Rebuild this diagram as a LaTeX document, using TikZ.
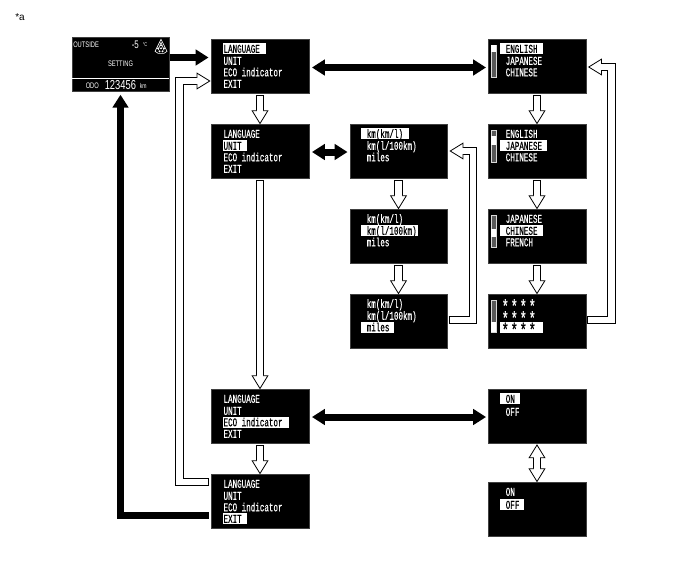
\documentclass[tikz,border=0pt]{standalone}
\usepackage{fontspec}
\setmainfont{Liberation Sans}
\newfontfamily\lcdfont[FakeStretch=0.63,FakeBold=0.4]{Liberation Mono}
\newfontfamily\homefont[FakeStretch=0.72]{Liberation Sans}
\usetikzlibrary{arrows.meta,calc}
\definecolor{bargray}{gray}{0.35}
\newcommand\lcdstar{\makebox[9pt][l]{\smash{\raisebox{-5pt}{\fontsize{19}{19}\selectfont *}}}}
\tikzset{
  screen/.style={fill=black,draw=black!75,line width=.4pt,minimum width=97.5pt,minimum height=54pt,inner sep=0pt},
  lcd/.style={text=white,font=\lcdfont\fontsize{12}{12}\selectfont,anchor=west,inner sep=0pt,text height=8pt,text depth=0pt},
  lcdsel/.style={lcd,text=black},
  selbar/.style={fill=white,draw=none,anchor=west,minimum height=11pt,inner sep=0pt},
  hometext/.style={text=white,font=\homefont\fontsize{#1}{#1}\selectfont,inner sep=0pt},
  blackarrow/.style={line width=7pt,black,{Triangle[length=13pt,width=15.5pt]}-{Triangle[length=13pt,width=15.5pt]}},
  blackone/.style={line width=7pt,black,-{Triangle[length=13pt,width=15.5pt]}},
  holo/.style={line width=8.4pt,black,line join=miter,-{Triangle[open,fill=white,length=14pt,width=17pt,line width=.8pt]}},
  holi/.style={line width=6.8pt,white,line join=miter,shorten <=.8pt,shorten >=12.5pt},
  holotwo/.style={line width=8.4pt,black,{Triangle[open,fill=white,length=14pt,width=17pt,line width=.8pt]}-{Triangle[open,fill=white,length=14pt,width=17pt,line width=.8pt]}},
  holitwo/.style={line width=6.8pt,white,shorten <=12.5pt,shorten >=12.5pt},
  barframe/.style={draw=white!85!black,fill=bargray,line width=.6pt,minimum width=4.5pt,minimum height=32pt,inner sep=0pt},
  thumb/.style={fill=white,draw=none,minimum width=4.5pt,inner sep=0pt},
}
% text line: box, name, dx, dy, text
\newcommand\ml[5]{\node[lcd] (#2) at ([xshift=#3pt,yshift=-#4pt]#1.north west) {#5};}
% highlighted line: box, name, dx-of-bar, dy, bar width, text offset, text
\newcommand\hl[7]{\node[selbar,minimum width=#5pt] (#2b) at ([xshift=#3pt,yshift=-#4pt]#1.north west) {};
  \node[lcdsel] (#2) at ([xshift=#6pt]#2b.west) {#7};}
\newcommand\hollow[1]{\draw[holo] #1; \draw[holi] #1;}
\newcommand\scrollb[3]{\node[barframe] (#1bar) at ([xshift=5.5pt,yshift=-22pt]#1.north west) {};
  \node[thumb,minimum height=#3pt] (#1th) at ([yshift=-#2pt]#1bar.north) {};}
\begin{document}
\begin{tikzpicture}[x=1pt,y=-1pt]
\useasboundingbox (0,0) rectangle (688,560);
\node[inner sep=0pt,font=\fontsize{10}{10}\selectfont] (note) at (20,17) {*a};

% screens
\node[screen,minimum height=54pt] (home) at (120.5,64.5) {};
\node[screen] (lang1) at (260,66) {};
\node[screen] (lang2) at (260,151) {};
\node[screen] (lang3) at (260,416) {};
\node[screen] (lang4) at (260,501) {};
\node[screen] (km1) at (398.5,151) {};
\node[screen] (km2) at (398.5,236) {};
\node[screen] (km3) at (398.5,321) {};
\node[screen] (en1) at (537,66) {};
\node[screen] (en2) at (537,151) {};
\node[screen] (en3) at (537,236) {};
\node[screen] (en4) at (537,321) {};
\node[screen] (on1) at (537,416) {};
\node[screen] (on2) at (537,509) {};

% home screen
\node[hometext=8,anchor=west] (hoa) at ([xshift=1.5pt,yshift=-7pt]home.north west) {OUTSIDE};
\node[hometext=11,anchor=west] (hob) at ([xshift=60pt,yshift=-7.5pt]home.north west) {-5};
\node[hometext=5.5,anchor=west] (hoc) at ([xshift=71pt,yshift=-7.5pt]home.north west) {°C};
\node[hometext=8] (hod) at ([yshift=-26pt]home.north) {SETTING};
\coordinate (hoe) at ([yshift=-41pt]home.north west);
\coordinate (hof) at ([yshift=-41pt]home.north east);
\draw[white,line width=1pt] (hoe) -- (hof);
\node[hometext=8,anchor=west] (hog) at ([xshift=14pt,yshift=-48pt]home.north west) {ODO};
\node[hometext=13,anchor=west] (hoh) at ([xshift=33pt,yshift=-48pt]home.north west) {123456};
\node[hometext=7,anchor=west] (hoi) at ([xshift=68pt,yshift=-48.5pt]home.north west) {km};
\begin{scope}[shift={(home.north west)},white,line width=.6pt]
\coordinate (ic) at (89.5,0);
\draw ([xshift=0pt,yshift=-2pt]ic) -- ([xshift=-6pt,yshift=-14pt]ic) -- ([xshift=-3pt,yshift=-16pt]ic) -- ([xshift=3pt,yshift=-16pt]ic) -- ([xshift=6pt,yshift=-14pt]ic) -- cycle;
\draw ([yshift=-5pt]ic) -- ([xshift=-3pt,yshift=-13pt]ic) ([yshift=-5pt]ic) -- ([xshift=3pt,yshift=-13pt]ic);
\fill ([xshift=-3pt,yshift=-11pt]ic) circle (1.1pt) ([xshift=0pt,yshift=-11pt]ic) circle (1.1pt) ([xshift=3pt,yshift=-11pt]ic) circle (1.1pt) ([xshift=-1.5pt,yshift=-14pt]ic) circle (1.1pt) ([xshift=1.5pt,yshift=-14pt]ic) circle (1.1pt) ([yshift=-8pt]ic) circle (1pt);
\end{scope}

% language menus
\hl{lang1}{la}{11.5}{10}{43}{.8}{LANGUAGE}
\ml{lang1}{lb}{12.3}{22}{UNIT}
\ml{lang1}{lc}{12.3}{33.5}{ECO indicator}
\ml{lang1}{ld}{12.3}{45}{EXIT}
\ml{lang2}{ma}{12.3}{10}{LANGUAGE}
\hl{lang2}{mb}{11.5}{22}{24}{.8}{UNIT}
\ml{lang2}{mc}{12.3}{33.5}{ECO indicator}
\ml{lang2}{md}{12.3}{45}{EXIT}
\ml{lang3}{na}{12.3}{10}{LANGUAGE}
\ml{lang3}{nb}{12.3}{22}{UNIT}
\hl{lang3}{nc}{11.5}{33.5}{66}{.8}{ECO indicator}
\ml{lang3}{nd}{12.3}{45}{EXIT}
\ml{lang4}{oa}{12.3}{10}{LANGUAGE}
\ml{lang4}{ob}{12.3}{22}{UNIT}
\ml{lang4}{oc}{12.3}{33.5}{ECO indicator}
\hl{lang4}{od}{11.5}{45}{24}{.8}{EXIT}

% km menus
\hl{km1}{pa}{11.5}{10}{48}{5.5}{km(km/l)}
\ml{km1}{pb}{17}{22}{km(l/100km)}
\ml{km1}{pc}{17}{33.5}{miles}
\ml{km2}{qa}{17}{10}{km(km/l)}
\hl{km2}{qb}{11.5}{22}{57}{5.5}{km(l/100km)}
\ml{km2}{qc}{17}{33.5}{miles}
\ml{km3}{ra}{17}{10}{km(km/l)}
\ml{km3}{rb}{17}{22}{km(l/100km)}
\hl{km3}{rc}{11.5}{33.5}{33}{5.5}{miles}

% language lists
\scrollb{en1}{3.5}{7}
\hl{en1}{sa}{12}{10}{43}{5.5}{ENGLISH}
\ml{en1}{sb}{17.5}{22}{JAPANESE}
\ml{en1}{sc}{17.5}{33.5}{CHINESE}
\scrollb{en2}{11}{9}
\ml{en2}{ta}{17.5}{10}{ENGLISH}
\hl{en2}{tb}{12}{22}{47}{5.5}{JAPANESE}
\ml{en2}{tc}{17.5}{33.5}{CHINESE}
\scrollb{en3}{18}{8}
\ml{en3}{ua}{17.5}{10}{JAPANESE}
\hl{en3}{ub}{12}{22}{43}{5.5}{CHINESE}
\ml{en3}{uc}{17.5}{33.5}{FRENCH}
\scrollb{en4}{27}{10}
\ml{en4}{va}{13.5}{10}{\lcdstar\lcdstar\lcdstar\lcdstar}
\ml{en4}{vb}{13.5}{22}{\lcdstar\lcdstar\lcdstar\lcdstar}
\hl{en4}{vc}{12}{33.5}{43}{1.5}{\lcdstar\lcdstar\lcdstar\lcdstar}

% on/off
\hl{on1}{wa}{12}{10}{19.5}{5.5}{ON}
\ml{on1}{wb}{17.5}{23}{OFF}
\ml{on2}{xa}{17.5}{10}{ON}
\hl{on2}{xb}{12}{23}{24}{5.5}{OFF}

% black arrows
\draw[blackone] ([yshift=7pt]home.east) ++(.5,0) -- ([xshift=-2.5pt,yshift=8.5pt]lang1.west);
\draw[blackarrow] ([xshift=3pt,yshift=-1.5pt]lang1.east) -- ([xshift=-2pt,yshift=-1.5pt]en1.west);
\draw[blackarrow] ([xshift=3pt,yshift=-1pt]lang2.east) -- ([xshift=-2pt,yshift=-1pt]km1.west);
\draw[blackarrow] ([xshift=3pt,yshift=-1pt]lang3.east) -- ([xshift=-2pt,yshift=-1pt]on1.west);
\coordinate (backa) at ([xshift=-2.5pt,yshift=-14.5pt]lang4.west);
\coordinate (backb) at ([yshift=-3pt]home.south);
\draw[blackone,line join=miter] (backa) -| (backb);

% hollow straight arrows
\hollow{([yshift=-2pt]lang1.south) -- ([yshift=-.5pt]lang2.north)}
\hollow{([yshift=-2pt]lang2.south) -- ([yshift=-.5pt]lang3.north)}
\hollow{([yshift=-2pt]lang3.south) -- ([yshift=-.5pt]lang4.north)}
\hollow{([yshift=-2pt]km1.south) -- ([yshift=-.5pt]km2.north)}
\hollow{([yshift=-2pt]km2.south) -- ([yshift=-.5pt]km3.north)}
\hollow{([yshift=-2pt]en1.south) -- ([yshift=-.5pt]en2.north)}
\hollow{([yshift=-2pt]en2.south) -- ([yshift=-.5pt]en3.north)}
\hollow{([yshift=-2pt]en3.south) -- ([yshift=-.5pt]en4.north)}
\draw[holotwo] ([yshift=-1pt]on1.south) -- ([yshift=-.5pt]on1.south |- on2.north);
\draw[holitwo] ([yshift=-1pt]on1.south) -- ([yshift=-.5pt]on1.south |- on2.north);

% hollow return arrows
\coordinate (ra1) at ([xshift=-2pt,yshift=19pt]lang4.west);
\coordinate (ra2) at ([xshift=-31.5pt,yshift=19pt]lang4.west);
\coordinate (ra3) at ([xshift=-.5pt,yshift=-15pt]lang1.west);
\hollow{(ra1) -- (ra2) |- (ra3)}
\coordinate (rb1) at ([xshift=1.5pt,yshift=1pt]km3.east);
\coordinate (rb2) at ([xshift=25.5pt,yshift=1pt]km3.east);
\coordinate (rb3) at ([xshift=2pt,yshift=0pt]km1.east);
\hollow{(rb1) -- (rb2) |- (rb3)}
\coordinate (rc1) at ([xshift=1.5pt,yshift=1pt]en4.east);
\coordinate (rc2) at ([xshift=25.5pt,yshift=1pt]en4.east);
\coordinate (rc3) at ([xshift=2pt,yshift=-1pt]en1.east);
\hollow{(rc1) -- (rc2) |- (rc3)}
\end{tikzpicture}
\end{document}
